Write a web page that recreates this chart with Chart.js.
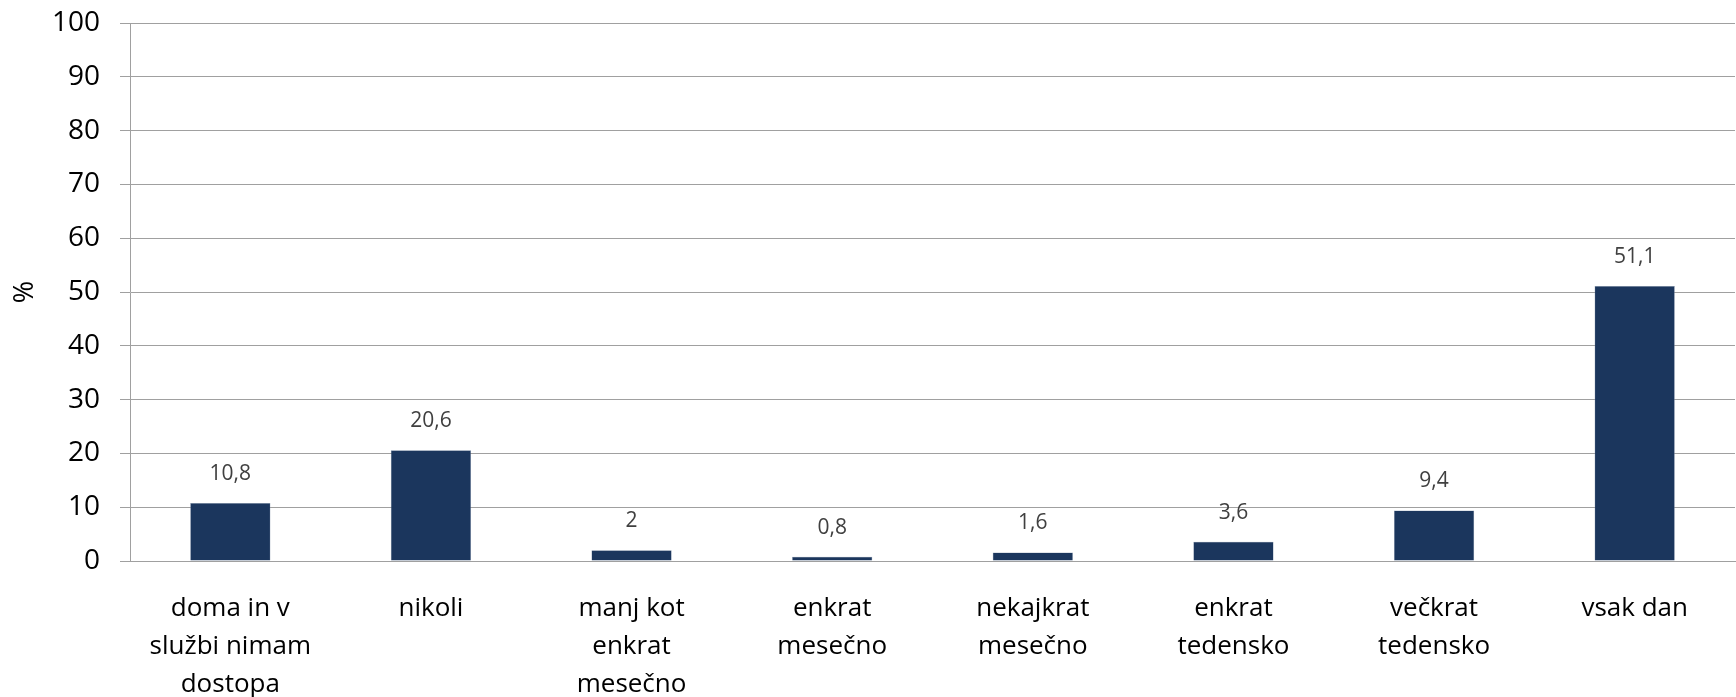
<!DOCTYPE html>
<html>
<head>
<meta charset="utf-8">
<script src="https://cdn.jsdelivr.net/npm/chart.js@4/dist/chart.umd.min.js"></script>
<style>
  html, body { margin: 0; padding: 0; background: #fff; }
  #wrap { width: 1736px; height: 697px; position: relative; }
</style>
</head>
<body>
<div id="wrap"><canvas id="chart"></canvas></div>
<script>
// categories (multi-line labels as in the original)
const categories = [
  ['doma in v', 'službi nimam', 'dostopa'],
  ['nikoli'],
  ['manj kot', 'enkrat', 'mesečno'],
  ['enkrat', 'mesečno'],
  ['nekajkrat', 'mesečno'],
  ['enkrat', 'tedensko'],
  ['večkrat', 'tedensko'],
  ['vsak dan']
];
const values = [10.8, 20.6, 2, 0.8, 1.6, 3.6, 9.4, 51.1];
const yTicks = [0, 10, 20, 30, 40, 50, 60, 70, 80, 90, 100];

const FONT = '"Open Sans", Lato, sans-serif';

// value labels above each bar, decimal comma
const valueLabels = {
  id: 'valueLabels',
  afterDatasetsDraw(chart) {
    const ctx = chart.ctx;
    const meta = chart.getDatasetMeta(0);
    ctx.save();
    ctx.font = '21px ' + FONT;
    ctx.fillStyle = '#404040';
    ctx.textAlign = 'center';
    ctx.textBaseline = 'middle';
    meta.data.forEach((bar, i) => {
      const txt = String(values[i]).replace('.', ',');
      ctx.fillText(txt, bar.x, bar.y - 29);
    });
    ctx.restore();
  }
};

new Chart(document.getElementById('chart'), {
  type: 'bar',
  data: {
    labels: categories,
    datasets: [{
      data: values,
      backgroundColor: '#1b365d',
      borderColor: '#8696ac',
      borderWidth: 0.5,
      barPercentage: 0.4,
      categoryPercentage: 1
    }]
  },
  options: {
    responsive: true,
    maintainAspectRatio: false,
    animation: false,
    layout: { padding: { top: 23, right: 1, left: 0, bottom: 0 } },
    plugins: {
      legend: { display: false },
      tooltip: { enabled: false }
    },
    scales: {
      x: {
        grid: { display: false, drawTicks: false },
        border: { display: true, color: '#a0a0a0', width: 1 },
        ticks: {
          color: '#000',
          font: { family: FONT, size: 26, lineHeight: 1.47 },
          padding: 28,
          maxRotation: 0,
          autoSkip: false
        },
        afterFit(scale) {
          scale.height = 136;
          scale.paddingLeft = 0;
          scale.paddingRight = 0;
        }
      },
      y: {
        min: 0,
        max: 100,
        afterBuildTicks(scale) { scale.ticks = yTicks.map(v => ({ value: v })); },
        grid: { color: '#a0a0a0', lineWidth: 1, tickLength: 10, drawTicks: true },
        border: { display: true, color: '#a0a0a0', width: 1 },
        ticks: {
          color: '#000',
          font: { family: FONT, size: 28 },
          padding: 20
        },
        title: {
          display: true,
          text: '%',
          color: '#000',
          font: { family: FONT, size: 27 },
          padding: { top: 9, bottom: 0 }
        },
        afterFit(scale) {
          scale.width = 130;
          scale.paddingTop = 0;
          scale.paddingBottom = 0;
        }
      }
    }
  },
  plugins: [valueLabels]
});
</script>
</body>
</html>
